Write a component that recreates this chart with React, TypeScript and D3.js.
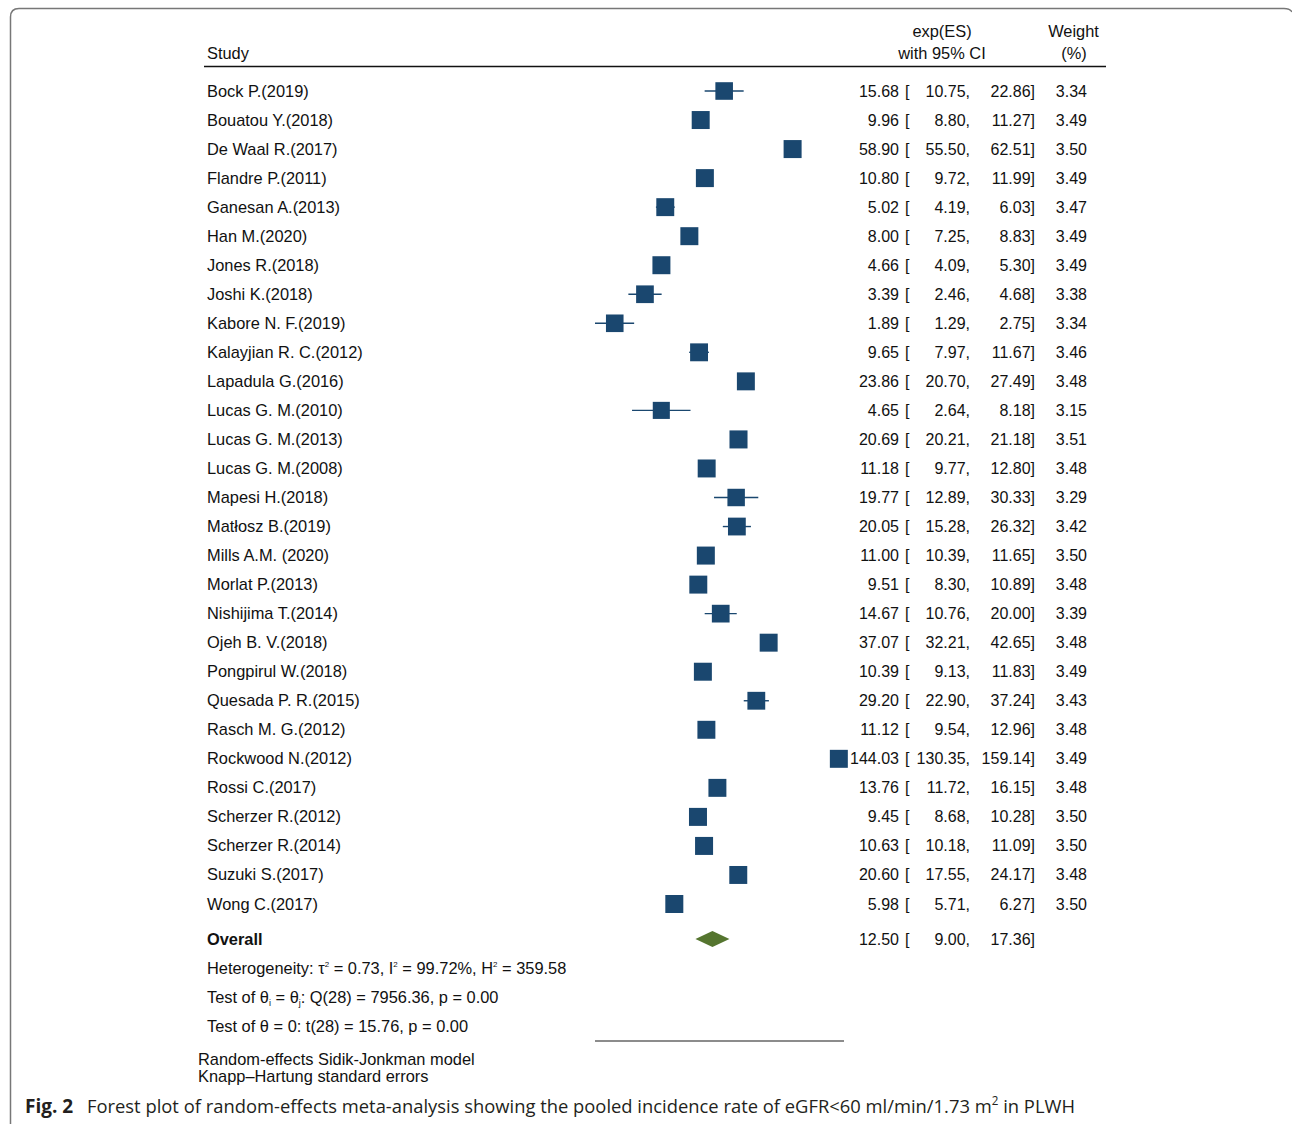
import React from "react";
import * as d3 from "d3";

const studies = [
  "Bock P.(2019)", "Bouatou Y.(2018)", "De Waal R.(2017)", "Flandre P.(2011)", "Ganesan A.(2013)",
  "Han M.(2020)", "Jones R.(2018)", "Joshi K.(2018)", "Kabore N. F.(2019)", "Kalayjian R. C.(2012)",
  "Lapadula G.(2016)", "Lucas G. M.(2010)", "Lucas G. M.(2013)", "Lucas G. M.(2008)", "Mapesi H.(2018)",
  "Matłosz B.(2019)", "Mills A.M. (2020)", "Morlat P.(2013)", "Nishijima T.(2014)", "Ojeh B. V.(2018)",
  "Pongpirul W.(2018)", "Quesada P. R.(2015)", "Rasch M. G.(2012)", "Rockwood N.(2012)", "Rossi C.(2017)",
  "Scherzer R.(2012)", "Scherzer R.(2014)", "Suzuki S.(2017)", "Wong C.(2017)",
];
const estimates = [15.68, 9.96, 58.90, 10.80, 5.02, 8.00, 4.66, 3.39, 1.89, 9.65, 23.86, 4.65, 20.69, 11.18, 19.77, 20.05, 11.00, 9.51, 14.67, 37.07, 10.39, 29.20, 11.12, 144.03, 13.76, 9.45, 10.63, 20.60, 5.98];
const lowers = [10.75, 8.80, 55.50, 9.72, 4.19, 7.25, 4.09, 2.46, 1.29, 7.97, 20.70, 2.64, 20.21, 9.77, 12.89, 15.28, 10.39, 8.30, 10.76, 32.21, 9.13, 22.90, 9.54, 130.35, 11.72, 8.68, 10.18, 17.55, 5.71];
const uppers = [22.86, 11.27, 62.51, 11.99, 6.03, 8.83, 5.30, 4.68, 2.75, 11.67, 27.49, 8.18, 21.18, 12.80, 30.33, 26.32, 11.65, 10.89, 20.00, 42.65, 11.83, 37.24, 12.96, 159.14, 16.15, 10.28, 11.09, 24.17, 6.27];
const weights = [3.34, 3.49, 3.50, 3.49, 3.47, 3.49, 3.49, 3.38, 3.34, 3.46, 3.48, 3.15, 3.51, 3.48, 3.29, 3.42, 3.50, 3.48, 3.39, 3.48, 3.49, 3.43, 3.48, 3.49, 3.48, 3.50, 3.50, 3.48, 3.50];
const overall = { est: 12.50, lo: 9.00, hi: 17.36 };

const FONT = "Arial, 'Liberation Sans', Helvetica, sans-serif";
const CAP_FONT = "'Open Sans', 'Noto Sans', sans-serif";
const NAVY = "#1a476f";
const GREEN = "#55752f";

export default function App() {
  const x = d3.scaleLog().domain([1.29, 159.14]).range([595, 844]);
  const y = d3.scaleLinear().domain([0, studies.length - 1]).range([91, 904]);
  const fmt = d3.format(".2f");
  const fs = 16.4;
  const nfs = 16;
  const overallY = 939;
  const diamond = [
    [x(overall.lo), overallY],
    [x(overall.est), overallY - 8],
    [x(overall.hi), overallY],
    [x(overall.est), overallY + 8],
  ];
  const T = { fontSize: fs, fill: "#111", style: { fontFamily: FONT } };
  const N = { fontSize: nfs, fill: "#111", style: { fontFamily: FONT } };
  return (
    <svg width={1292} height={1124} style={{ position: "absolute", left: 0, top: 0, background: "#fff", fontFamily: FONT }}>
      <path d="M10.5,1124 L10.5,17 Q10.5,8.5 19,8.5 L1284,8.5 Q1290,8.5 1292,12" fill="none" stroke="#777" strokeWidth={1.5} />
      {/* header */}
      <text x={207} y={59} {...T}>Study</text>
      <text x={942} y={36.5} textAnchor="middle" {...T}>exp(ES)</text>
      <text x={942} y={59} textAnchor="middle" {...T}>with 95% CI</text>
      <text x={1073.5} y={36.5} textAnchor="middle" {...T}>Weight</text>
      <text x={1074} y={59} textAnchor="middle" {...T}>(%)</text>
      <line x1={204} x2={1106} y1={66.5} y2={66.5} stroke="#111" strokeWidth={1.5} />
      {studies.map((s, i) => {
        const cy = y(i);
        const side = 18 * Math.sqrt(weights[i] / 3.5);
        return (
          <g key={s}>
            <text x={207} y={cy + 5.5} {...T}>{s}</text>
            <line x1={x(lowers[i])} x2={x(uppers[i])} y1={cy} y2={cy} stroke={NAVY} strokeWidth={1.4} />
            <rect x={x(estimates[i]) - side / 2} y={cy - side / 2} width={side} height={side} fill={NAVY} />
            <text x={899} y={cy + 5.5} textAnchor="end" {...N}>{fmt(estimates[i])}</text>
            <text x={905} y={cy + 5.5} {...N}>[</text>
            <text x={970} y={cy + 5.5} textAnchor="end" {...N}>{fmt(lowers[i]) + ","}</text>
            <text x={1035} y={cy + 5.5} textAnchor="end" {...N}>{fmt(uppers[i]) + "]"}</text>
            <text x={1087} y={cy + 5.5} textAnchor="end" {...N}>{fmt(weights[i])}</text>
          </g>
        );
      })}
      {/* overall */}
      <text x={207} y={overallY + 5.5} fontWeight="bold" {...T}>Overall</text>
      <polygon points={diamond.map((p) => p.join(",")).join(" ")} fill={GREEN} />
      <text x={899} y={overallY + 5.5} textAnchor="end" {...N}>{fmt(overall.est)}</text>
      <text x={905} y={overallY + 5.5} {...N}>[</text>
      <text x={970} y={overallY + 5.5} textAnchor="end" {...N}>{fmt(overall.lo) + ","}</text>
      <text x={1035} y={overallY + 5.5} textAnchor="end" {...N}>{fmt(overall.hi) + "]"}</text>
      <text x={207} y={973.5} {...T}>
        Heterogeneity: τ<tspan dy={-7} fontSize={8}>2</tspan><tspan dy={7}> = 0.73, I</tspan>
        <tspan dy={-7} fontSize={8}>2</tspan><tspan dy={7}> = 99.72%, H</tspan>
        <tspan dy={-7} fontSize={8}>2</tspan><tspan dy={7}> = 359.58</tspan>
      </text>
      <text x={207} y={1002.5} {...T}>
        Test of θ<tspan dy={3} fontSize={9}>i</tspan><tspan dy={-3}> = θ</tspan>
        <tspan dy={3} fontSize={9}>j</tspan><tspan dy={-3}>: Q(28) = 7956.36, p = 0.00</tspan>
      </text>
      <text x={207} y={1031.5} {...T}>Test of θ = 0: t(28) = 15.76, p = 0.00</text>
      <line x1={x(1.29)} x2={x(159.14)} y1={1041} y2={1041} stroke="#666" strokeWidth={1.5} />
      <text x={198} y={1065} {...T}>Random-effects Sidik-Jonkman model</text>
      <text x={198} y={1082} {...T}>Knapp–Hartung standard errors</text>
      {/* caption */}
      <text x={25} y={1113} fontSize={19} fontWeight="bold" fill="#231f20" style={{ fontFamily: CAP_FONT }}>Fig. 2</text>
      <text x={87} y={1113} fontSize={19} fill="#231f20" style={{ fontFamily: CAP_FONT }} textLength={988} lengthAdjust="spacingAndGlyphs">
        Forest plot of random-effects meta-analysis showing the pooled incidence rate of eGFR&lt;60 ml/min/1.73 m<tspan dy={-8} fontSize={12}>2</tspan><tspan dy={8}> in PLWH</tspan>
      </text>
    </svg>
  );
}
